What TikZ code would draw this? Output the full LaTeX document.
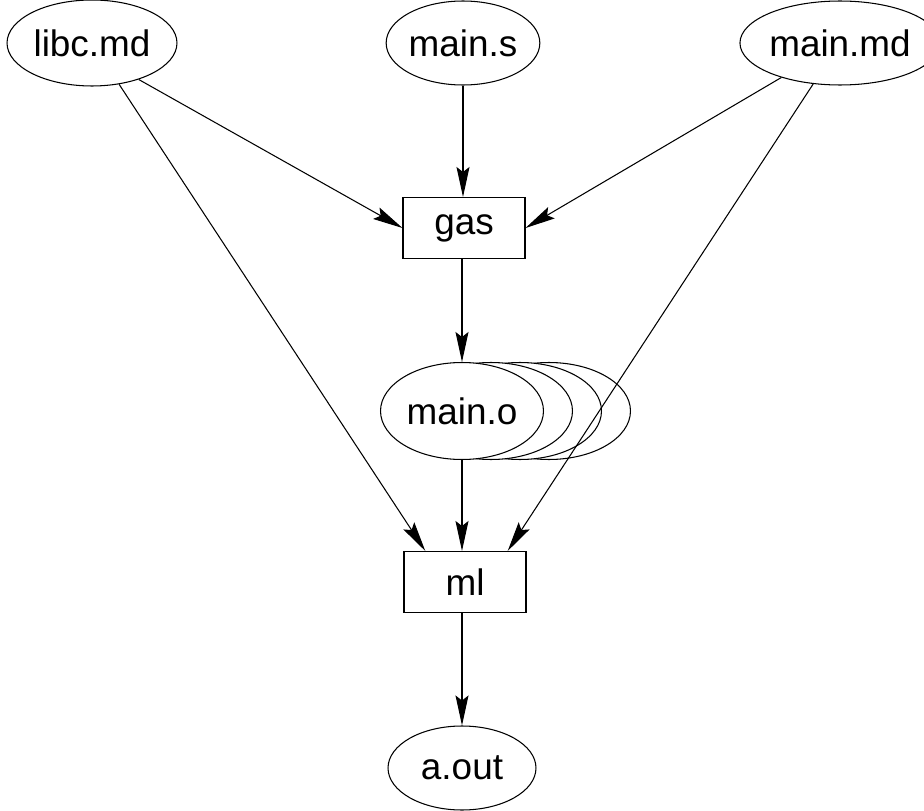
\documentclass[tikz,border=0pt]{standalone}
\usepackage{fontspec}
\setmainfont{Liberation Sans}
\usetikzlibrary{arrows.meta,shapes.geometric}

\begin{document}
\begin{tikzpicture}[x=0.02cm, y=-0.02cm, line width=0.6pt,
>={Stealth[length=6mm,width=2.6mm,inset=1mm]},
file/.style={ellipse,draw,fill=white,inner sep=0pt,minimum width=2.96cm,minimum height=1.68cm,font=\fontsize{21}{25}\selectfont},
prog/.style={rectangle,draw,fill=white,inner sep=0pt,minimum width=2.44cm,minimum height=1.22cm,font=\fontsize{21}{25}\selectfont}
]
\useasboundingbox (0,0) rectangle (924,811);

% sources
\node[file,minimum width=3.4cm,minimum height=1.72cm] (libc) at (92,43) {libc.md};
\node[file] (mains) at (463,43) {main.s};
\node[file,minimum width=3.2cm] (mainmd) at (840,43) {main.md};

\node[prog] (gas) at (464,228) {gas};

% the stack of object files behind main.o
\foreach \dx in {87,58,29}
{
\draw[fill=white] (462+\dx,411) ellipse (1.63cm and 0.97cm);
}
\node[file,minimum width=3.26cm,minimum height=1.94cm] (maino) at (462,411) {main.o};

\node[prog] (ml) at (465,582) {ml};
\node[file] (aout) at (462,768) {a.out};

% edges
\draw[->] (libc.-38) -- (gas.west);
\draw[->] (mains) -- (gas.north -| mains);
\draw[->] (mainmd) -- (gas.east);
\draw[->] (gas.south -| maino) -- (maino);
\draw[->] (libc) -- (ml.142);
\draw[->] (maino) -- (ml.north -| maino);
\draw[->] (mainmd) -- (ml.36);
\draw[->] (ml.south -| aout) -- (aout);
\end{tikzpicture}
\end{document}
